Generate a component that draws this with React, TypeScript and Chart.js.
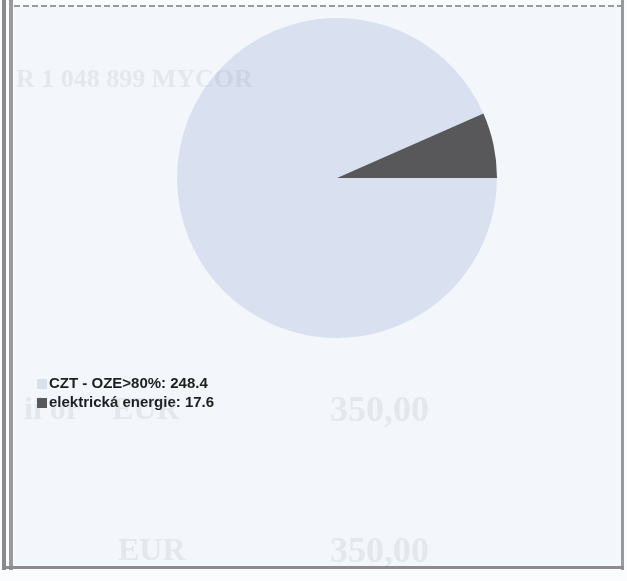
import React, { useEffect, useRef } from "react";
import { Chart, registerables } from "chart.js";

Chart.register(...registerables);

const categories = ["CZT - OZE>80%", "elektrická energie"];
const values = [248.4, 17.6];
const colors = ["#d9e1f1", "#58585b"];

const ghostTexts = [
  { text: "R 1 048 899 MYCOR", x: 16, y: 66, size: 26 },
  { text: "ií or", x: 24, y: 392, size: 32 },
  { text: "EUR", x: 112, y: 392, size: 32 },
  { text: "350,00", x: 330, y: 391, size: 36 },
  { text: "EUR", x: 118, y: 533, size: 32 },
  { text: "350,00", x: 330, y: 532, size: 36 },
];

const legendPlugin = {
  id: "sideLegend",
  afterDraw(chart: any) {
    const ctx = chart.ctx;
    ctx.save();
    ctx.font = "bold 15px 'Liberation Sans', Arial, sans-serif";
    ctx.textBaseline = "middle";
    categories.forEach((c, i) => {
      const y = 383 + i * 19;
      ctx.fillStyle = colors[i];
      ctx.fillRect(37, y - 4, 10, 10);
      ctx.fillStyle = "#1e1e1e";
      ctx.fillText(`${c}: ${values[i]}`, 49, y + 1);
    });
    ctx.restore();
  },
};

export default function App() {
  const ref = useRef<HTMLCanvasElement>(null);
  useEffect(() => {
    if (!ref.current) return;
    const chart = new Chart(ref.current, {
      type: "pie",
      data: {
        labels: categories,
        datasets: [
          {
            data: values,
            backgroundColor: colors,
            borderWidth: 0,
          },
        ],
      },
      options: {
        animation: false,
        responsive: false,
        rotation: 90,
        layout: { padding: { left: 177, top: 18, right: 130, bottom: 243 } },
        plugins: { legend: { display: false }, tooltip: { enabled: false } },
      },
      plugins: [legendPlugin],
    });
    return () => chart.destroy();
  }, []);

  return (
    <div style={{ position: "fixed", left: 0, top: 0, width: 627, height: 581, background: "#fbfcfe", overflow: "hidden" }}>
      <div style={{ position: "absolute", left: 14, top: 6, width: 607, height: 560, background: "#f3f6fb" }} />
      <div style={{ position: "absolute", left: 2, top: 0, width: 4, height: 570, background: "#8a8a8a" }} />
      <div style={{ position: "absolute", left: 9, top: 0, width: 4, height: 570, background: "#9a9a9a" }} />
      <div style={{ position: "absolute", left: 621, top: 0, width: 3, height: 570, background: "#9a9a9a" }} />
      <div style={{ position: "absolute", left: 2, top: 566, width: 622, height: 3, background: "#8c8c8c" }} />
      <div
        style={{
          position: "absolute",
          left: 14,
          top: 5,
          width: 607,
          height: 2,
          backgroundImage: "repeating-linear-gradient(90deg, #999 0 6px, transparent 6px 9px)",
        }}
      />
      <canvas ref={ref} width={627} height={581} style={{ position: "absolute", left: 0, top: 0 }} />
      {ghostTexts.map((g, i) => (
        <div
          key={i}
          style={{
            position: "absolute",
            left: g.x,
            top: g.y,
            fontFamily: "'Liberation Serif', 'DejaVu Serif', serif",
            fontWeight: "bold",
            fontSize: g.size,
            color: "rgba(110,115,130,0.11)",
            whiteSpace: "nowrap",
            lineHeight: 1,
            pointerEvents: "none",
          }}
        >
          {g.text}
        </div>
      ))}
    </div>
  );
}
